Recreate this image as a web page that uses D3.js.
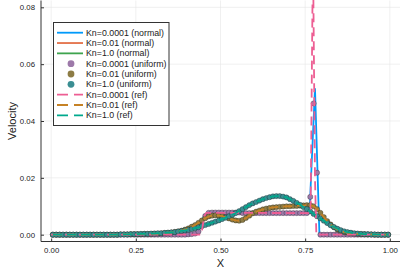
<!DOCTYPE html>
<html>
<head>
<meta charset="utf-8">
<script src="https://cdn.jsdelivr.net/npm/d3@7"></script>
<style>
  body { margin: 0; background: #fff; }
  svg { display: block; font-family: "Liberation Sans", Arial, sans-serif; }
</style>
</head>
<body>
<div id="chart"></div>
<script>
const w = 409;
const h = 273;

const xTicks = [0, 0.25, 0.5, 0.75, 1];
const yTicks = [0, 0.02, 0.04, 0.06, 0.08];

// uniform grid (cell centres)
const xUniform = [
  0.005, 0.015, 0.025, 0.035, 0.045, 0.055, 0.065, 0.075, 0.085, 0.095,
  0.105, 0.115, 0.125, 0.135, 0.145, 0.155, 0.165, 0.175, 0.185, 0.195,
  0.205, 0.215, 0.225, 0.235, 0.245, 0.255, 0.265, 0.275, 0.285, 0.295,
  0.305, 0.315, 0.325, 0.335, 0.345, 0.355, 0.365, 0.375, 0.385, 0.395,
  0.405, 0.415, 0.425, 0.435, 0.445, 0.455, 0.465, 0.475, 0.485, 0.495,
  0.505, 0.515, 0.525, 0.535, 0.545, 0.555, 0.565, 0.575, 0.585, 0.595,
  0.605, 0.615, 0.625, 0.635, 0.645, 0.655, 0.665, 0.675, 0.685, 0.695,
  0.705, 0.715, 0.725, 0.735, 0.745, 0.755, 0.765, 0.775, 0.785, 0.795,
  0.805, 0.815, 0.825, 0.835, 0.845, 0.855, 0.865, 0.875, 0.885, 0.895,
  0.905, 0.915, 0.925, 0.935, 0.945, 0.955, 0.965, 0.975, 0.985, 0.995
];

const uniKn0001 = [
  0, 0, 0, 0, 0, 0, 0, 0, 0, 0,
  0, 0, 0, 0, 0, 0, 0, 0, 0, 0,
  0, 0, 0, 0, 0, 0, 0, 0, 0, 0,
  0, 0, 0, 0, 0, 0, 0, 0, 0, 0,
  0.0001, 0.0002, 0.0004, 0.0011, 0.0035, 0.0066, 0.0077, 0.0078, 0.0078, 0.0078,
  0.0078, 0.0078, 0.0078, 0.0078, 0.0078, 0.0078, 0.0076, 0.0076, 0.0076, 0.0076,
  0.0076, 0.0076, 0.0076, 0.0076, 0.0076, 0.0076, 0.0076, 0.0076, 0.0076, 0.0076,
  0.0076, 0.0076, 0.0076, 0.0076, 0.0076, 0.0076, 0.0133, 0.0462, 0.0218, 0,
  0, 0, 0, 0, 0, 0, 0, 0, 0, 0,
  0, 0, 0, 0, 0, 0, 0, 0, 0, 0
];

const uniKn001 = [
  0, 0, 0, 0, 0, 0, 0, 0, 0, 0,
  0, 0, 0, 0, 0, 0, 0, 0, 0, 0,
  0.0001, 0.0001, 0.0001, 0.0002, 0.0002, 0.0002, 0.0002, 0.0003, 0.0003, 0.0003,
  0.0004, 0.0004, 0.0005, 0.0006, 0.0007, 0.0008, 0.0010, 0.0012, 0.0014, 0.0018,
  0.0022, 0.0028, 0.0034, 0.0042, 0.0050, 0.0058, 0.0064, 0.0067, 0.0068, 0.0067,
  0.0065, 0.0061, 0.0057, 0.0053, 0.0050, 0.0049, 0.0052, 0.0059, 0.0067, 0.0075,
  0.0081, 0.0085, 0.0089, 0.0092, 0.0094, 0.0096, 0.0097, 0.0098, 0.0099, 0.0100,
  0.0100, 0.0101, 0.0101, 0.0102, 0.0103, 0.0104, 0.0104, 0.0100, 0.0090, 0.0077,
  0.0062, 0.0048, 0.0036, 0.0026, 0.0018, 0.0013, 0.0009, 0.0007, 0.0005, 0.0004,
  0.0003, 0.0002, 0.0002, 0.0001, 0.0001, 0, 0, 0, 0, 0
];

const uniKn1 = [
  0, 0, 0, 0, 0, 0, 0, 0, 0, 0,
  0, 0, 0, 0, 0, 0, 0, 0, 0, 0,
  0.0001, 0.0001, 0.0001, 0.0002, 0.0002, 0.0002, 0.0003, 0.0003, 0.0003, 0.0004,
  0.0004, 0.0005, 0.0005, 0.0006, 0.0007, 0.0008, 0.0009, 0.0011, 0.0013, 0.0015,
  0.0017, 0.0020, 0.0023, 0.0026, 0.0030, 0.0034, 0.0038, 0.0042, 0.0046, 0.0050,
  0.0055, 0.0060, 0.0065, 0.0070, 0.0076, 0.0083, 0.0090, 0.0097, 0.0104, 0.0110,
  0.0115, 0.0120, 0.0125, 0.0129, 0.0132, 0.0135, 0.0136, 0.0136, 0.0134, 0.0131,
  0.0125, 0.0119, 0.0112, 0.0105, 0.0097, 0.0090, 0.0082, 0.0073, 0.0065, 0.0057,
  0.0049, 0.0041, 0.0033, 0.0027, 0.0021, 0.0016, 0.0012, 0.0009, 0.0007, 0.0005,
  0.0004, 0.0003, 0.0002, 0.0002, 0.0001, 0.0001, 0, 0, 0, 0
];

// Kn=0.0001 normal grid (clustered near the spike)
const normX0001 = [0, 0.40, 0.42, 0.43, 0.44, 0.45, 0.46, 0.47, 0.55, 0.56, 0.76, 0.764, 0.779, 0.792, 0.80, 1.0];
const normY0001 = [0, 0, 0.0002, 0.0008, 0.0028, 0.0062, 0.0076, 0.0078, 0.0078, 0.0076, 0.0076, 0.0110, 0.0515, 0.0004, 0, 0];

// Kn=0.0001 reference
const refX0001 = [0, 0.44, 0.444, 0.452, 0.458, 0.766, 0.773, 0.779, 0.783, 1.0];
const refY0001 = [0, 0, 0.0005, 0.0065, 0.0077, 0.0076, 0.100, 0.020, 0, 0];

const labels = [
  "Kn=0.0001 (normal)", "Kn=0.01 (normal)", "Kn=1.0 (normal)",
  "Kn=0.0001 (uniform)", "Kn=0.01 (uniform)", "Kn=1.0 (uniform)",
  "Kn=0.0001 (ref)", "Kn=0.01 (ref)", "Kn=1.0 (ref)"
];

const zip = (xs, ys) => xs.map((x, i) => [x, ys[i]]);

const series = [
  { kind: "line", color: "#009AFA", pts: zip(normX0001, normY0001) },
  { kind: "line", color: "#E36F47", pts: zip(xUniform, uniKn001) },
  { kind: "line", color: "#3EA44E", pts: zip(xUniform, uniKn1) },
  { kind: "dot", color: "#9d79a9", pts: zip(xUniform, uniKn0001) },
  { kind: "dot", color: "#8d7c45", pts: zip(xUniform, uniKn001) },
  { kind: "dot", color: "#3a8e92", pts: zip(xUniform, uniKn1) },
  { kind: "dash", color: "#ED5E93", pts: zip(refX0001, refY0001) },
  { kind: "dash", color: "#C68225", pts: zip(xUniform, uniKn001) },
  { kind: "dash", color: "#00A98D", pts: zip(xUniform, uniKn1) }
];

const x = d3.scaleLinear().domain([-0.03, 1.03]).range([41, 400]);
const y = d3.scaleLinear().domain([-0.0024, 0.0824]).range([241.5, 0.5]);

const svg = d3
  .select("#chart")
  .append("svg")
  .attr("width", w)
  .attr("height", h);

svg.append("rect").attr("width", w).attr("height", h).attr("fill", "#fff");

svg
  .append("clipPath")
  .attr("id", "clip")
  .append("rect")
  .attr("x", 41)
  .attr("y", 0)
  .attr("width", 359)
  .attr("height", 241.5);

// grid
const grid = svg.append("g").attr("stroke", "#e6e6e6").attr("stroke-width", 0.6);
grid
  .selectAll("line.gx")
  .data(xTicks)
  .enter()
  .append("line")
  .attr("x1", (d) => x(d))
  .attr("x2", (d) => x(d))
  .attr("y1", 0.5)
  .attr("y2", 241.5);
grid
  .selectAll("line.gy")
  .data(yTicks)
  .enter()
  .append("line")
  .attr("y1", (d) => y(d))
  .attr("y2", (d) => y(d))
  .attr("x1", 41)
  .attr("x2", 400);

// data
const plot = svg.append("g").attr("clip-path", "url(#clip)");
const line = d3
  .line()
  .x((d) => x(d[0]))
  .y((d) => y(d[1]));

series.forEach((s) => {
  if (s.kind === "dot") {
    plot
      .append("g")
      .selectAll("circle")
      .data(s.pts)
      .enter()
      .append("circle")
      .attr("cx", (d) => x(d[0]))
      .attr("cy", (d) => y(d[1]))
      .attr("r", 2.6)
      .attr("fill", s.color)
      .attr("stroke", "rgba(0,0,0,0.45)")
      .attr("stroke-width", 0.6);
  } else {
    plot
      .append("path")
      .datum(s.pts)
      .attr("d", line)
      .attr("fill", "none")
      .attr("stroke", s.color)
      .attr("stroke-width", 1.8)
      .attr("stroke-dasharray", s.kind === "dash" ? "9,5" : null);
  }
});

// axes
const yAxis = d3.axisLeft(y).tickValues(yTicks).tickFormat(d3.format(".2f")).tickSize(-3).tickPadding(6);
const xAxis = d3.axisBottom(x).tickValues(xTicks).tickFormat(d3.format(".2f")).tickSize(-3).tickPadding(6);

const gy = svg.append("g").attr("transform", "translate(41,0)").call(yAxis);
const gx = svg.append("g").attr("transform", "translate(0,241.5)").call(xAxis);
[gx, gy].forEach((g) => {
  g.select(".domain").remove();
  g.selectAll("line").attr("stroke", "#333");
  g.selectAll("text").attr("font-size", "7.8px").attr("fill", "#222").attr("font-family", "Liberation Sans, Arial, sans-serif");
});
svg.append("line").attr("x1", 41).attr("x2", 41).attr("y1", 0.5).attr("y2", 241.5).attr("stroke", "#333").attr("stroke-width", 1);
svg.append("line").attr("x1", 41).attr("x2", 400).attr("y1", 241.5).attr("y2", 241.5).attr("stroke", "#333").attr("stroke-width", 1);

svg
  .append("text")
  .attr("x", 220.5)
  .attr("y", 267)
  .attr("text-anchor", "middle")
  .attr("font-size", "11px")
  .attr("fill", "#222")
  .text("X");
svg
  .append("text")
  .attr("transform", "translate(16,121) rotate(-90)")
  .attr("text-anchor", "middle")
  .attr("font-size", "11px")
  .attr("fill", "#222")
  .text("Velocity");

// legend
const leg = svg.append("g");
leg
  .append("rect")
  .attr("x", 53.5)
  .attr("y", 22.5)
  .attr("width", 115.5)
  .attr("height", 103)
  .attr("fill", "#fff")
  .attr("stroke", "#333")
  .attr("stroke-width", 1);

const rowY = (i) => 32.7 + i * 10.33;
const items = leg
  .selectAll("g.item")
  .data(series)
  .enter()
  .append("g")
  .attr("transform", (d, i) => `translate(0,${rowY(i)})`);

items.each(function (s) {
  const g = d3.select(this);
  if (s.kind === "dot") {
    g.append("circle").attr("cx", 71).attr("cy", 0).attr("r", 3.4).attr("fill", s.color);
  } else {
    g.append("line")
      .attr("x1", 57)
      .attr("x2", 83)
      .attr("y1", 0)
      .attr("y2", 0)
      .attr("stroke", s.color)
      .attr("stroke-width", 1.8)
      .attr("stroke-dasharray", s.kind === "dash" ? "11,6" : null);
  }
});
items
  .append("text")
  .attr("x", 86)
  .attr("y", 0)
  .attr("dy", "0.34em")
  .attr("font-size", "8.8px")
  .attr("fill", "#222")
  .text((d, i) => labels[i]);
</script>
</body>
</html>
